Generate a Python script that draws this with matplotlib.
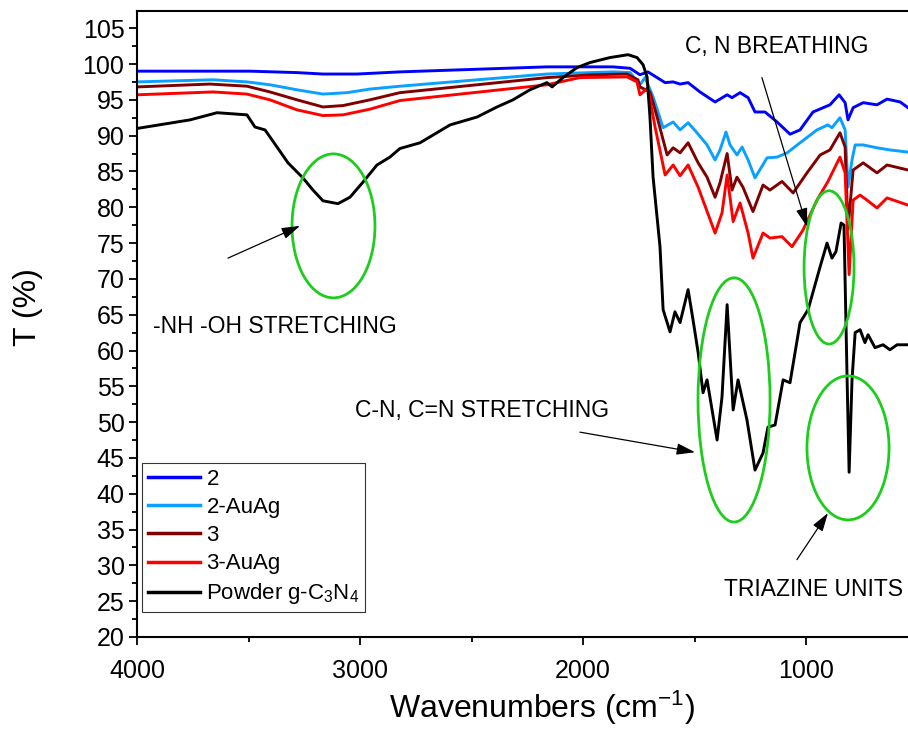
import matplotlib
matplotlib.use("Agg")
import matplotlib.pyplot as plt
from matplotlib.patches import Ellipse
from matplotlib.ticker import MultipleLocator

plt.rcParams['font.family'] = ['Liberation Sans', 'DejaVu Sans']
plt.rcParams['mathtext.fontset'] = 'custom'
plt.rcParams['mathtext.rm'] = 'Liberation Sans'
plt.rcParams['mathtext.it'] = 'Liberation Sans:italic'

# ---------------- data (wavenumber cm^-1, transmittance %) ----------------
wn_black = [4000, 3762, 3641, 3507, 3471, 3426, 3372, 3323, 3256, 3211, 3166, 3099, 3045, 2987,
            2924, 2866, 2821, 2731, 2596, 2475, 2386, 2314, 2238, 2162, 2139, 2090, 2027, 1969,
            1879, 1798, 1758, 1731, 1713, 1700, 1686, 1655, 1641, 1610, 1588, 1565, 1529, 1507,
            1484, 1462, 1444, 1399, 1377, 1354, 1327, 1305, 1265, 1229, 1193, 1171, 1139, 1103,
            1072, 1027, 991, 937, 906, 884, 866, 843, 830, 816, 807, 794, 780, 758, 736, 722,
            691, 655, 624, 592, 543]
t_black = [91.0, 92.2, 93.2, 92.9, 91.2, 90.8, 88.4, 86.2, 84.1, 82.4, 80.9, 80.5, 81.4, 83.5,
           85.9, 87.0, 88.2, 89.0, 91.5, 92.6, 94.0, 95.0, 96.4, 97.4, 96.8, 98.1, 99.5, 100.2,
           100.9, 101.3, 100.9, 99.9, 98.2, 92.6, 84.2, 74.5, 65.7, 62.6, 65.4, 63.9, 68.5, 64.3,
           59.7, 54.1, 55.9, 47.5, 53.5, 66.4, 51.7, 55.9, 50.3, 43.3, 45.7, 49.3, 49.6, 55.9,
           55.5, 63.9, 65.7, 71.7, 75.0, 72.9, 73.8, 77.8, 77.5, 55.9, 43.0, 55.9, 62.5, 62.9, 61.1, 62.2,
           60.4, 60.8, 60.1, 60.8, 60.8]

wn_2 = [4000, 3493, 3283, 3166, 3014, 2821, 2162, 1866, 1789, 1745, 1709, 1632, 1596, 1565, 1529,
        1476, 1408, 1354, 1332, 1296, 1260, 1229, 1184, 1130, 1072, 1027, 969, 893, 852, 825,
        812, 789, 744, 682, 637, 578, 543]
t_2 = [99.0, 99.0, 98.8, 98.6, 98.6, 98.9, 99.6, 99.6, 99.4, 98.5, 98.9, 97.4, 97.5, 97.2, 97.4,
       96.1, 94.7, 95.7, 95.3, 96.0, 95.3, 93.3, 93.3, 91.9, 90.2, 90.8, 93.3, 94.3, 95.7, 94.6,
       92.2, 93.9, 94.6, 94.3, 95.1, 94.7, 93.9]

wn_2auag = [4000, 3659, 3507, 3404, 3283, 3166, 3058, 2955, 2821, 2162, 1866, 1789, 1745, 1722,
            1686, 1641, 1619, 1596, 1565, 1529, 1489, 1444, 1408, 1386, 1359, 1341, 1310, 1287,
            1260, 1229, 1175, 1130, 1085, 1027, 951, 902, 884, 848, 825, 812, 794, 780, 744, 682,
            624, 543]
t_2auag = [97.5, 97.8, 97.5, 97.1, 96.4, 95.8, 96.0, 96.5, 96.9, 98.6, 98.9, 98.8, 97.1, 98.1,
           95.4, 91.1, 91.5, 91.9, 90.8, 91.8, 90.4, 88.7, 86.6, 88.0, 90.5, 88.7, 87.3, 88.4,
           86.6, 84.1, 86.9, 87.0, 87.6, 89.0, 90.8, 91.5, 91.1, 92.5, 90.8, 82.8, 86.6, 88.7, 88.7, 88.3,
           88.0, 87.7]

wn_3 = [4000, 3673, 3507, 3404, 3283, 3166, 3076, 2955, 2821, 2162, 1955, 1803, 1754, 1745, 1700,
        1668, 1623, 1596, 1565, 1529, 1484, 1444, 1408, 1386, 1354, 1332, 1310, 1283, 1238,
        1193, 1162, 1108, 1058, 996, 937, 893, 848, 825, 812, 789, 744, 682, 637, 543]
t_3 = [96.8, 97.2, 96.9, 96.1, 95.0, 94.0, 94.2, 95.0, 96.0, 98.1, 98.5, 98.6, 97.8, 96.8, 96.1,
       92.6, 87.3, 88.3, 87.6, 89.0, 86.2, 84.2, 81.4, 83.4, 87.5, 82.4, 84.2, 82.8, 79.4,
       83.1, 82.4, 83.6, 82.0, 84.8, 87.3, 88.0, 90.4, 88.4, 77.0, 85.2, 86.2, 84.8, 85.9, 85.2]

wn_3auag = [4000, 3659, 3507, 3404, 3283, 3166, 3076, 2955, 2821, 2162, 2014, 1803, 1758, 1745,
            1709, 1677, 1632, 1596, 1565, 1529, 1484, 1408, 1377, 1354, 1327, 1296, 1260, 1238,
            1193, 1162, 1108, 1063, 1014, 951, 902, 848, 825, 807, 789, 758, 727, 682, 637, 543]
t_3auag = [95.7, 96.1, 95.8, 95.0, 93.6, 92.8, 92.9, 93.7, 94.9, 97.1, 98.1, 98.2, 97.5, 95.7,
           96.7, 91.2, 84.5, 85.9, 84.4, 85.9, 82.8, 76.4, 79.2, 84.5, 78.0, 80.6, 76.4, 72.9,
           76.4, 75.7, 75.9, 74.5, 76.8, 81.0, 83.6, 87.0, 84.8, 70.6, 81.0, 81.7, 81.0, 79.9, 81.3, 80.3]

series = [
    ("2", wn_2, t_2, "#0000FF"),
    ("2-AuAg", wn_2auag, t_2auag, "#0AA0FF"),
    ("3", wn_3, t_3, "#800000"),
    ("3-AuAg", wn_3auag, t_3auag, "#FF0000"),
    ("Powder g-C$_3$N$_4$", wn_black, t_black, "#000000"),
]

# annotations
ellipses = [((3119, 77.4), 372, 20.1), ((1323, 53.1), 323, 34.1),
            ((897, 71.6), 224, 21.4), ((812, 46.4), 368, 20.1)]
arrows = [((3592, 72.9), (3269, 77.4)), ((2014, 48.6), (1498, 45.8)),
          ((1198, 98.1), (996, 77.3)), ((1041, 30.8), (902, 37.3))]
labels = [("-NH -OH STRETCHING", 3928, 63.4), ("C-N, C=N STRETCHING", 3022, 51.6),
          ("C, N BREATHING", 1130, 102.4), ("TRIAZINE UNITS", 1368, 26.6)]

# ---------------- figure ----------------
fig = plt.figure(figsize=(9.08, 7.37), dpi=100)
ax = fig.add_axes([137 / 908, 100 / 737, 771 / 908, 626 / 737])

for name, x, y, c in series:
    ax.plot(x, y, color=c, lw=2.1, label=name, solid_joinstyle='round')

for (cx, cy), w, h in ellipses:
    ax.add_patch(Ellipse((cx, cy), w, h, fill=False, edgecolor='#1ECC1E', lw=2.0, zorder=5))

for tail, head in arrows:
    ax.annotate('', xy=head, xytext=tail,
                arrowprops=dict(arrowstyle='-|>,head_length=0.8,head_width=0.25',
                                color='black', lw=0.9, mutation_scale=14,
                                shrinkA=0, shrinkB=0), zorder=6)

for txt, x, y in labels:
    ax.text(x, y, txt, fontsize=16.5, ha='left' if txt != "C, N BREATHING" else 'center',
            va='center', color='black')

ax.set_xlim(4000, 543)
ax.set_ylim(20, 107.4)
ax.xaxis.set_major_locator(MultipleLocator(1000))
ax.xaxis.set_minor_locator(MultipleLocator(500))
ax.yaxis.set_major_locator(MultipleLocator(5))
ax.yaxis.set_minor_locator(MultipleLocator(2.5))

ax.spines['right'].set_visible(False)
for s in ['left', 'bottom', 'top']:
    ax.spines[s].set_linewidth(1.5)
ax.tick_params(which='major', direction='out', length=6, width=1.3, labelsize=18)
ax.tick_params(axis='x', which='major', pad=10)
ax.tick_params(axis='y', which='major', pad=3)
ax.tick_params(which='minor', direction='out', length=3.5, width=1.3)
ax.tick_params(top=False, right=False, which='both')

ax.set_xlabel('Wavenumbers (cm$^{-1}$)', fontsize=23)
ax.set_ylabel('T (%)', fontsize=23)
ax.xaxis.set_label_coords(0.525, -0.082)
ax.yaxis.set_label_coords(-0.122, 0.527)

leg = ax.legend(loc='lower left', bbox_to_anchor=(0.0065, 0.04), borderaxespad=0,
                fontsize=16, frameon=True, fancybox=False, shadow=False,
                handlelength=2.35, handletextpad=0.3, labelspacing=0.32, borderpad=0.25)
leg.get_frame().set_edgecolor('black')
leg.get_frame().set_linewidth(0.8)
for l in leg.get_lines():
    l.set_linewidth(2.5)

fig.savefig('out.png', dpi=100)
